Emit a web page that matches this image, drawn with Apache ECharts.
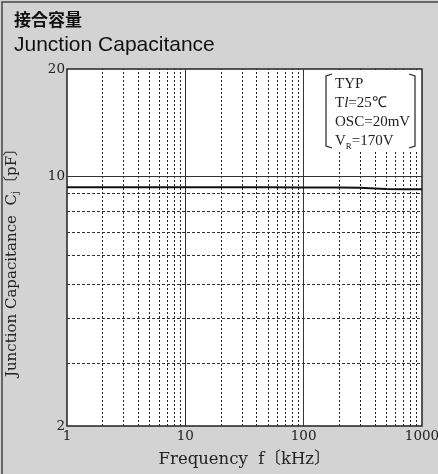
<!DOCTYPE html>
<html><head><meta charset="utf-8">
<script src="https://cdn.jsdelivr.net/npm/echarts@6/dist/echarts.min.js"></script>
<style>html,body{margin:0;padding:0;background:#d3d3d3;}#c{width:438px;height:474px;}</style>
</head><body><div id="c"></div>
<script>
const freq = [1, 2, 5, 10, 20, 50, 100, 200, 300, 400, 500, 700, 1000];
const cap = [9.33, 9.33, 9.33, 9.33, 9.33, 9.33, 9.32, 9.31, 9.3, 9.26, 9.22, 9.21, 9.21];
const xTicks = [1, 10, 100, 1000];
const yTicks = [2, 10, 20];
const xMajor = [10, 100];
const xMinor = [2,3,4,5,6,7,8,9,20,30,40,50,60,70,80,90,200,300,400,500,600,700,800,900];
const yMajor = [10];
const yMinor = [3,4,5,6,7,8,9];

const serif = '"DejaVu Serif", "Noto Sans CJK JP", serif';
const chart = echarts.init(document.getElementById('c'));
const minorStyle = {color: '#222', type: [2, 2], width: 1};
const minorStyleH = {color: '#333', type: [3, 2], width: 1};
const majorStyle = {color: '#333', type: 'solid', width: 1};
chart.setOption({
  backgroundColor: '#d3d3d3',
  animation: false,
  grid: {left: 67, right: 16, top: 69, bottom: 48, outerBoundsMode: 'none', containLabel: false, show: true, backgroundColor: '#fff', borderColor: '#222', borderWidth: 1.5},
  xAxis: {
    type: 'log', logBase: 10, min: 1, max: 1000,
    name: 'Frequency  f〔kHz〕', nameLocation: 'middle', nameGap: 25,
    nameTextStyle: {fontFamily: serif, fontSize: 16.5, color: '#222'},
    axisLine: {show: false}, axisTick: {show: false}, splitLine: {show: false},
    axisLabel: {customValues: xTicks, formatter: v => String(v), fontFamily: serif, fontSize: 13.5, color: '#222', margin: 4}
  },
  yAxis: {
    type: 'log', logBase: 10, min: 2, max: 20,
    name: 'Junction Capacitance  C{s|j}〔pF〕', nameLocation: 'middle', nameGap: 47,
    nameTextStyle: {fontFamily: serif, fontSize: 15, color: '#222', padding: [0, 23, 0, 0],
      rich: {s: {fontFamily: serif, fontSize: 10, color: '#222', verticalAlign: 'bottom'}}},
    axisLine: {show: false}, axisTick: {show: false}, splitLine: {show: false},
    axisLabel: {customValues: yTicks, formatter: v => String(v), fontFamily: serif, fontSize: 13.5, color: '#222', margin: 2}
  },
  graphic: [
    {type: 'rect', shape: {x: 2, y: 2, width: 440, height: 480}, style: {fill: 'none', stroke: '#444', lineWidth: 1.5}, silent: true},
    {type: 'text', left: 14, top: 11, style: {text: '接合容量', font: 'bold 17px "Noto Sans CJK JP", sans-serif', fill: '#111'}},
    {type: 'text', left: 14, top: 35, style: {text: 'Junction Capacitance', font: '21px "Liberation Sans", Arial, sans-serif', fill: '#111'}},
    {type: 'rect', shape: {x: 322, y: 71, width: 97, height: 80}, style: {fill: '#fff'}, z: 50},
    {type: 'polyline', shape: {points: [[332,74],[326,76],[326,146],[332,148]]}, style: {stroke: '#222', lineWidth: 1.2, fill: 'none'}, z: 51},
    {type: 'polyline', shape: {points: [[409,74],[415,76],[415,146],[409,148]]}, style: {stroke: '#222', lineWidth: 1.2, fill: 'none'}, z: 51},
    {type: 'text', left: 335, top: 75, z: 52, style: {
      text: 'TYP\nT{i|l}=25℃\nOSC=20mV\nV{s|R}=170V',
      font: '15px "Liberation Serif", serif', fill: '#222', lineHeight: 19,
      rich: {i: {fontStyle: 'italic', fontFamily: 'Liberation Serif', fontSize: 15, fill: '#222'}, s: {fontFamily: 'Liberation Serif', fontSize: 9, verticalAlign: 'bottom', fill: '#222'}}
    }}
  ],
  series: [{
    type: 'line', data: freq.map((f, i) => [f, cap[i]]), symbol: 'none',
    lineStyle: {color: '#111', width: 2}, z: 10,
    markLine: {
      silent: true, symbol: 'none', label: {show: false}, z: 1,
      data: [
        ...xMinor.map(v => ({xAxis: v, lineStyle: minorStyle})),
        ...yMinor.map(v => ({yAxis: v, lineStyle: minorStyleH})),
        ...xMajor.map(v => ({xAxis: v, lineStyle: majorStyle})),
        ...yMajor.map(v => ({yAxis: v, lineStyle: majorStyle}))
      ]
    }
  }]
});
</script></body></html>
